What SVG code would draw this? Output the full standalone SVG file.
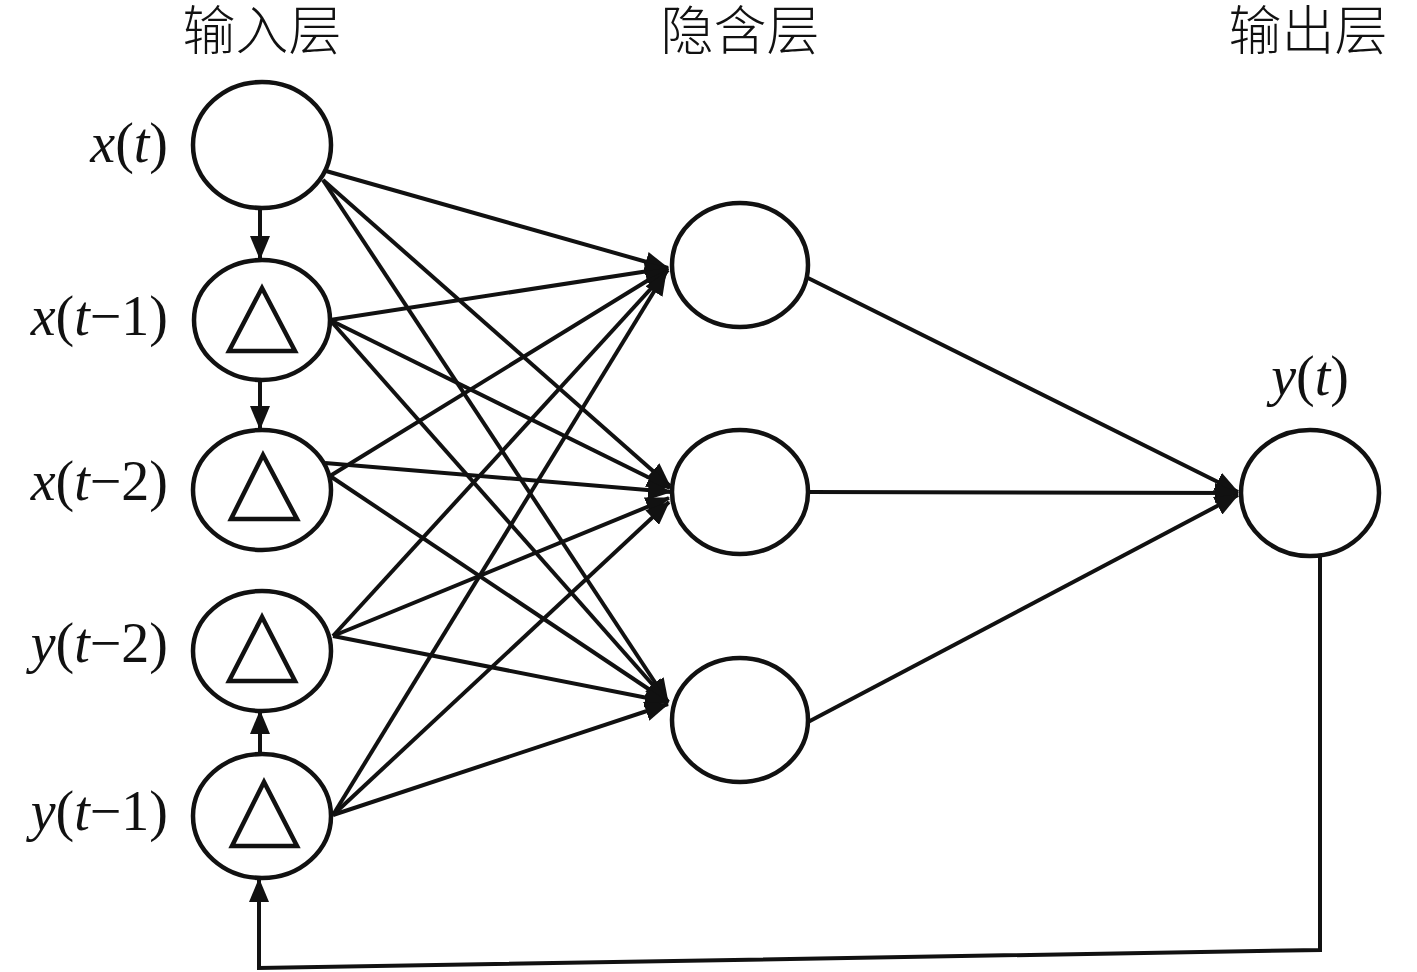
<svg xmlns="http://www.w3.org/2000/svg" width="1417" height="972" viewBox="0 0 1417 972">
<style>
.node{fill:#fff;stroke:#111;stroke-width:4.5}
.tri{fill:none;stroke:#111;stroke-width:4.5;stroke-linejoin:miter}
.c{stroke:#111;stroke-width:4;fill:none}
.a{marker-end:url(#ah)}
.lab{font-family:"Liberation Serif","Times New Roman",serif;font-size:56px;fill:#111}
.i{font-style:italic}
.title{font-family:"Liberation Serif","Noto Sans CJK SC","Noto Sans CJK TC",serif;font-size:53px;font-weight:300;fill:#111;text-anchor:middle}
</style>
<defs>
<marker id="ah" viewBox="0 0 24 20" refX="23" refY="10" markerWidth="24" markerHeight="20" markerUnits="userSpaceOnUse" orient="auto">
<path d="M0,0 L24,10 L0,20 Z" fill="#111"/>
</marker>
</defs>
<rect width="1417" height="972" fill="#fff"/>

<g id="titles">
<text class="title" x="262" y="50">输入层</text>
<text class="title" x="740" y="50">隐含层</text>
<text class="title" x="1308" y="50">输出层</text>
</g>

<g id="connectors">
<line class="c a" x1="326" y1="171" x2="668" y2="268"/>
<line class="c a" x1="323" y1="180" x2="670" y2="486"/>
<line class="c a" x1="323" y1="180" x2="668" y2="702"/>
<line class="c a" x1="330" y1="320" x2="668" y2="268"/>
<line class="c a" x1="330" y1="320" x2="670" y2="488"/>
<line class="c a" x1="330" y1="320" x2="668" y2="702"/>
<line class="c a" x1="330" y1="476" x2="668" y2="268"/>
<line class="c a" x1="325" y1="463" x2="671" y2="492"/>
<line class="c a" x1="330" y1="476" x2="668" y2="702"/>
<line class="c a" x1="333" y1="636" x2="668" y2="270"/>
<line class="c a" x1="333" y1="636" x2="669" y2="498"/>
<line class="c a" x1="333" y1="636" x2="668" y2="702"/>
<line class="c a" x1="333" y1="815" x2="666" y2="272"/>
<line class="c a" x1="333" y1="815" x2="669" y2="502"/>
<line class="c a" x1="333" y1="815" x2="668" y2="704"/>
<line class="c a" x1="808" y1="278" x2="1238" y2="492"/>
<line class="c a" x1="808" y1="492" x2="1238" y2="493"/>
<line class="c a" x1="808" y1="722" x2="1238" y2="495"/>
<line class="c a" x1="260" y1="208" x2="260" y2="259"/>
<line class="c a" x1="260" y1="380" x2="260" y2="429"/>
<line class="c a" x1="260" y1="755" x2="260" y2="711"/>
<polyline class="c a" points="1320,555 1320,950 259,968 259,879"/>
</g>

<g id="n_xt">
<ellipse class="node" cx="262" cy="145" rx="69" ry="63"/>
<text class="lab" x="168" y="162" text-anchor="end"><tspan class="i">x</tspan>(<tspan class="i">t</tspan>)</text>
</g>
<g id="n_xt1">
<ellipse class="node" cx="262" cy="320" rx="68" ry="60"/>
<path class="tri" d="M262,288 L229,351 L295,351 Z"/>
<text class="lab" x="168" y="335" text-anchor="end"><tspan class="i">x</tspan>(<tspan class="i">t</tspan>−1)</text>
</g>
<g id="n_xt2">
<ellipse class="node" cx="262" cy="490" rx="69" ry="60"/>
<path class="tri" d="M263,455 L231,519 L297,519 Z"/>
<text class="lab" x="168" y="500" text-anchor="end"><tspan class="i">x</tspan>(<tspan class="i">t</tspan>−2)</text>
</g>
<g id="n_yt2">
<ellipse class="node" cx="262" cy="651" rx="69" ry="60"/>
<path class="tri" d="M262,617 L229,681 L295,681 Z"/>
<text class="lab" x="168" y="662" text-anchor="end"><tspan class="i">y</tspan>(<tspan class="i">t</tspan>−2)</text>
</g>
<g id="n_yt1">
<ellipse class="node" cx="262" cy="816" rx="69" ry="62"/>
<path class="tri" d="M264,782 L232,846 L297,846 Z"/>
<text class="lab" x="168" y="830" text-anchor="end"><tspan class="i">y</tspan>(<tspan class="i">t</tspan>−1)</text>
</g>

<g id="h1"><ellipse class="node" cx="740" cy="265" rx="68" ry="62"/></g>
<g id="h2"><ellipse class="node" cx="740" cy="492" rx="68" ry="62"/></g>
<g id="h3"><ellipse class="node" cx="740" cy="720" rx="68" ry="62"/></g>

<g id="out">
<ellipse class="node" cx="1310" cy="493" rx="69" ry="63"/>
<text class="lab" x="1310" y="395" text-anchor="middle"><tspan class="i">y</tspan>(<tspan class="i">t</tspan>)</text>
</g>
</svg>
